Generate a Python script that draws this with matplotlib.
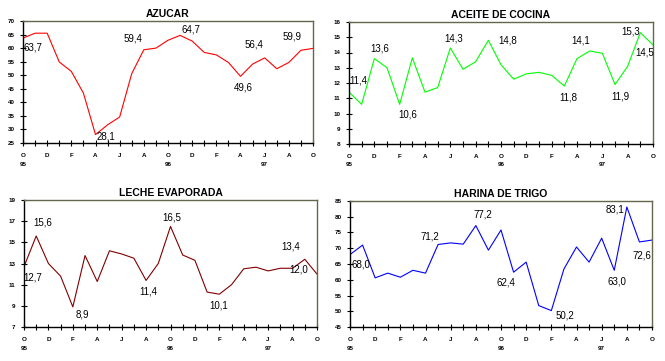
import matplotlib
matplotlib.use("Agg")
import matplotlib.pyplot as plt
import numpy as np

plt.rcParams['font.family'] = ['Liberation Sans', 'DejaVu Sans']

month_labels = ["O", "D", "F", "A", "J", "A", "O", "D", "F", "A", "J", "A", "O"]
year_labels = ["95", "96", "97"]
year_idx = [0, 12, 20]

azucar = [63.7, 65.5, 65.5, 54.9, 51.4, 43.4, 28.1, 31.7, 34.6, 50.6, 59.4, 60.0, 62.9,
          64.7, 62.6, 58.4, 57.5, 54.7, 49.6, 54.1, 56.4, 52.4, 54.7, 59.2, 59.9]
aceite = [11.4, 10.6, 13.6, 13.0, 10.6, 13.65, 11.4, 11.7, 14.3, 12.9, 13.4, 14.8, 13.2,
          12.25, 12.6, 12.7, 12.5, 11.8, 13.6, 14.1, 13.95, 11.9, 13.1, 15.3, 14.5]
leche = [12.7, 15.6, 13.0, 11.8, 8.9, 13.75, 11.3, 14.2, 13.9, 13.5, 11.4, 13.0, 16.5,
         13.8, 13.3, 10.3, 10.1, 11.0, 12.5, 12.65, 12.3, 12.55, 12.55, 13.4, 12.0]
harina = [68.0, 71.0, 60.6, 62.1, 60.8, 63.0, 62.1, 71.2, 71.7, 71.3, 77.2, 69.4, 75.8,
          62.4, 65.6, 51.8, 50.2, 63.4, 70.4, 65.6, 73.2, 63.0, 83.1, 72.0, 72.6]

panels = [
    dict(title="AZUCAR", data=azucar, color="#FF0000", ylim=(25, 70), step=5,
         box=(23, 21, 313, 143),
         labels={0: (10, 9), 6: (10, 2), 10: (-11, -11), 13: (11, -6), 18: (3, 11),
                 20: (-11, -13), 24: (-21, -12)}),
    dict(title="ACEITE DE COCINA", data=aceite, color="#00FF00", ylim=(8, 16), step=1,
         box=(349, 22, 653, 144),
         labels={0: (9, -12), 2: (5, -10), 4: (8, 10), 8: (3, -9), 11: (19, 0),
                 17: (4, 11), 19: (-9, -10), 21: (5, 12), 23: (-10, -1), 24: (-8, 8)}),
    dict(title="LECHE EVAPORADA", data=leche, color="#800000", ylim=(7, 19), step=2,
         box=(24, 200, 317, 327),
         labels={0: (9, 11), 1: (7, -13), 4: (10, 8), 10: (2, 11), 12: (1, -9),
                 16: (-1, 11), 23: (-14, -13), 24: (-18, -5)}),
    dict(title="HARINA DE TRIGO", data=harina, color="#0000FF", ylim=(45, 85), step=5,
         box=(350, 201, 652, 327),
         labels={0: (11, 10), 7: (-8, -8), 10: (7, -11), 13: (-8, 10), 16: (14, 5),
                 21: (3, 11), 22: (-12, 3), 24: (-10, 15)}),
]

W, H = 665, 361
fig = plt.figure(figsize=(W / 100, H / 100), dpi=100)
frame_col = "#66664d"

for p in panels:
    l, t, r, b = p["box"]
    ax = fig.add_axes([l / W, 1 - b / H, (r - l) / W, (b - t) / H])
    y = np.array(p["data"])
    x = np.arange(len(y))
    ax.plot(x, y, color=p["color"], lw=0.8)
    ax.set_xlim(0, len(y) - 1)
    ax.set_ylim(*p["ylim"])
    ax.set_yticks(np.arange(p["ylim"][0], p["ylim"][1] + 0.01, p["step"]))
    ax.set_yticklabels([f"{v:g}" for v in ax.get_yticks()], fontsize=4.5, fontweight="bold")
    ax.set_xticks(np.arange(0, len(y), 2))
    ax.set_xticks(np.arange(1, len(y), 2), minor=True)
    ax.set_xticklabels(month_labels, fontsize=4.5, fontweight="bold")
    ax.tick_params(axis="both", which="both", direction="inout", length=4, width=0.8,
                   color="black", pad=4)
    ax.tick_params(axis="x", pad=5)
    for s in ["left", "bottom"]:
        ax.spines[s].set_color("black")
        ax.spines[s].set_linewidth(1.0)
    for s in ["top", "right"]:
        ax.spines[s].set_color(frame_col)
        ax.spines[s].set_linewidth(1.0)
    ax.set_title(p["title"], fontsize=7.5, fontweight="bold", pad=3)
    for yi, yl in zip(year_idx, year_labels):
        ax.annotate(yl, xy=(yi, 0), xycoords=("data", "axes fraction"),
                    xytext=(0, -21), textcoords="offset pixels",
                    ha="center", va="center", fontsize=4.5, fontweight="bold")
    for idx, (dx, dy) in p["labels"].items():
        txt = f"{p['data'][idx]:.1f}".replace(".", ",")
        ax.annotate(txt, xy=(idx, y[idx]), xytext=(dx, -dy), textcoords="offset pixels",
                    ha="center", va="center", fontsize=7)

fig.savefig("out.png", dpi=100)
